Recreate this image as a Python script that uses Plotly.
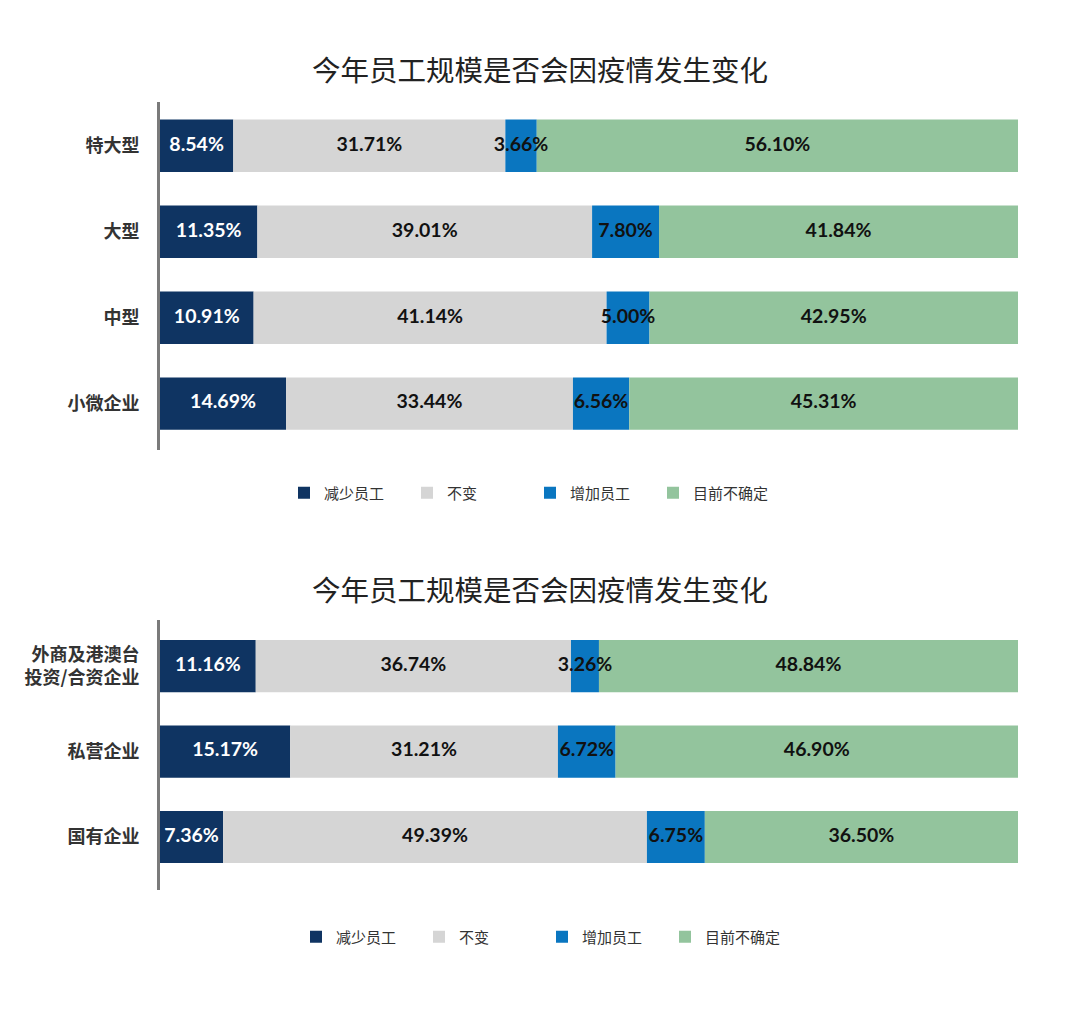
import plotly.graph_objects as go

# 按企业规模
size_cats = ["特大型", "大型", "中型", "小微企业"]
size_decrease = [8.54, 11.35, 10.91, 14.69]
size_same = [31.71, 39.01, 41.14, 33.44]
size_increase = [3.66, 7.80, 5.00, 6.56]
size_unsure = [56.10, 41.84, 42.95, 45.31]

# 按企业性质
own_cats = ["外商及港澳台<br>投资/合资企业", "私营企业", "国有企业"]
own_decrease = [11.16, 15.17, 7.36]
own_same = [36.74, 31.21, 49.39]
own_increase = [3.26, 6.72, 6.75]
own_unsure = [48.84, 46.90, 36.50]

series_names = ["减少员工", "不变", "增加员工", "目前不确定"]
colors = ["#0f3462", "#d5d5d5", "#0a76c0", "#93c49d"]
text_colors = ["white", "#111111", "#111111", "#111111"]

title_text = "今年员工规模是否会因疫情发生变化"

CJK = "Noto Sans CJK SC"
NUM = "Lato"
W, H = 1080, 1015
OFF = 8  # 页面 body 边距


def px(v):
    """参考图像素 -> paper 坐标 (y)。"""
    return 1 - (v - OFF) / H


def add_group(fig, cats, series, xa, ya, legend):
    base = [0.0] * len(cats)
    for name, vals, col, tcol in zip(series_names, series, colors, text_colors):
        fig.add_trace(
            go.Bar(
                y=cats,
                x=vals,
                base=base,
                orientation="h",
                name=name,
                marker=dict(color=col, line=dict(width=0)),
                xaxis=xa,
                yaxis=ya,
                legend=legend,
                hoverinfo="skip",
            )
        )
        mids = [b + v / 2 for b, v in zip(base, vals)]
        fig.add_trace(
            go.Scatter(
                y=cats,
                x=mids,
                mode="text",
                text=[f"{v:.2f}%" for v in vals],
                textfont=dict(family=NUM, size=19.5, color=tcol, weight="bold"),
                xaxis=xa,
                yaxis=ya,
                showlegend=False,
                hoverinfo="skip",
            )
        )
        base = [b + v for b, v in zip(base, vals)]


fig = go.Figure()
add_group(fig, size_cats, [size_decrease, size_same, size_increase, size_unsure], "x", "y", "legend")
add_group(fig, own_cats, [own_decrease, own_same, own_increase, own_unsure], "x2", "y2", "legend2")

xdom = [(160 - OFF) / W, (1018 - OFF) / W]
axis_x = dict(domain=xdom, range=[0, 100], visible=False, fixedrange=True)
axis_y = dict(
    showline=True,
    linecolor="#7a7a7a",
    linewidth=3,
    showgrid=False,
    zeroline=False,
    ticks="",
    ticklabelstandoff=14,
    tickfont=dict(family=CJK, size=18, color="#333333", weight="bold"),
)
legend_base = dict(
    orientation="h",
    xanchor="center",
    yanchor="middle",
    font=dict(family=CJK, size=15, color="#333333"),
    entrywidth=78,
    itemclick=False,
)

fig.update_layout(
    width=W,
    height=H,
    paper_bgcolor="white",
    plot_bgcolor="white",
    margin=dict(l=0, r=0, t=0, b=0),
    barmode="overlay",
    bargap=0.39,
    xaxis=dict(axis_x, anchor="y"),
    yaxis=dict(axis_y, domain=[px(450), px(102)], range=[3.54, -0.51], anchor="x"),
    xaxis2=dict(axis_x, anchor="y2"),
    yaxis2=dict(axis_y, domain=[px(890), px(620)], range=[2.62, -0.54], anchor="x2"),
    legend=dict(legend_base, x=(530 - OFF) / W, y=px(493)),
    legend2=dict(legend_base, x=(542 - OFF) / W, y=px(937)),
    annotations=[
        dict(text=title_text, x=(540 - OFF) / W, y=px(68), xref="paper", yref="paper",
             yanchor="middle", showarrow=False,
             font=dict(family=CJK, size=28.5, color="#222222")),
        dict(text=title_text, x=(540 - OFF) / W, y=px(588), xref="paper", yref="paper",
             yanchor="middle", showarrow=False,
             font=dict(family=CJK, size=28.5, color="#222222")),
    ],
)

fig.write_html("out.html")
